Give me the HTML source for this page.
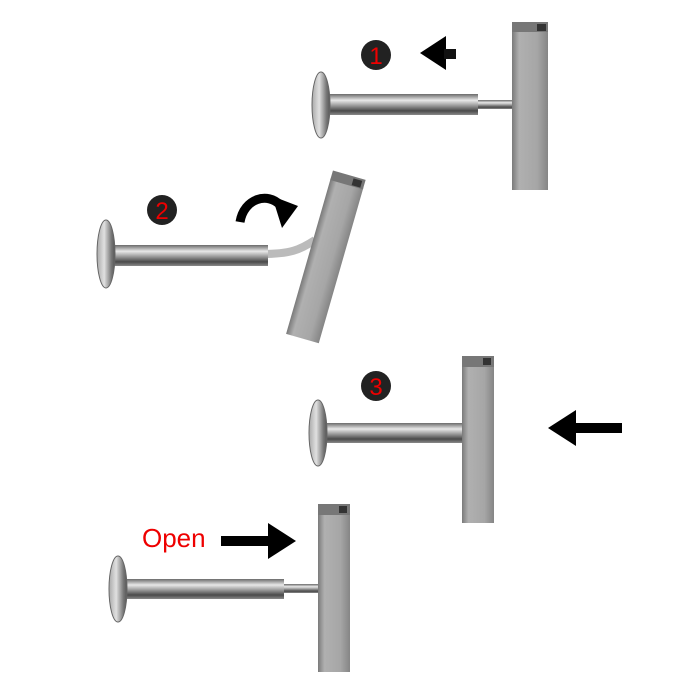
<!DOCTYPE html>
<html><head><style>body{margin:0;background:#fff}svg{display:block}</style></head><body>
<svg width="700" height="700" viewBox="0 0 700 700" xmlns="http://www.w3.org/2000/svg">
<defs>
<linearGradient id="rod" x1="0" y1="0" x2="0" y2="1">
<stop offset="0" stop-color="#6a6a6a"/><stop offset="0.3" stop-color="#e8e8e8"/><stop offset="0.55" stop-color="#9a9a9a"/><stop offset="0.8" stop-color="#4a4a4a"/><stop offset="1" stop-color="#8a8a8a"/></linearGradient>
<linearGradient id="disc" x1="0" y1="0" x2="1" y2="0">
<stop offset="0" stop-color="#aaa"/><stop offset="0.4" stop-color="#e0e0e0"/><stop offset="0.8" stop-color="#777"/><stop offset="1" stop-color="#555"/></linearGradient>
<linearGradient id="bar" x1="0" y1="0" x2="1" y2="0">
<stop offset="0" stop-color="#7a7a7a"/><stop offset="0.2" stop-color="#b0b0b0"/><stop offset="0.7" stop-color="#a6a6a6"/><stop offset="1" stop-color="#858585"/></linearGradient>
</defs>
<!-- 1 -->
<circle cx="376" cy="55" r="15" fill="#222"/>
<text x="376" y="64" font-family="Liberation Sans, sans-serif" font-size="24" fill="#e00" text-anchor="middle">1</text>
<polygon points="420,53 446,36 446,70" fill="#000"/><rect x="444" y="49" width="12" height="10" fill="#111"/>
<rect x="476" y="100" width="38" height="9" fill="url(#rod)"/>
<rect x="326" y="94" width="152" height="21" fill="url(#rod)"/>
<ellipse cx="321" cy="105" rx="9" ry="33" fill="url(#disc)" stroke="#666" stroke-width="1"/>
<rect x="512" y="30" width="36" height="160" fill="url(#bar)"/>
<polygon points="512,22 548,22 548,32 512,32" fill="#777"/><rect x="537" y="24" width="9" height="7" fill="#333"/>
<!-- 2 -->
<circle cx="162" cy="210" r="15" fill="#222"/>
<text x="162" y="219" font-family="Liberation Sans, sans-serif" font-size="24" fill="#e00" text-anchor="middle">2</text>
<path d="M240,222 C244,198 268,192 280,205" fill="none" stroke="#000" stroke-width="9"/>
<polygon points="272,196 298,206 282,228" fill="#000"/>
<path d="M262,254 C290,254 300,250 315,240" fill="none" stroke="#bbb" stroke-width="8"/>
<rect x="110" y="245" width="158" height="21" fill="url(#rod)"/>
<ellipse cx="106" cy="254" rx="9" ry="34" fill="url(#disc)" stroke="#666" stroke-width="1"/>
<g transform="rotate(16 326 260)">
<rect x="308" y="180" width="34" height="162" fill="url(#bar)"/>
<rect x="308" y="172" width="34" height="10" fill="#777"/><rect x="330" y="174" width="9" height="7" fill="#333"/>
</g>
<!-- 3 -->
<circle cx="376" cy="386" r="15" fill="#222"/>
<text x="376" y="395" font-family="Liberation Sans, sans-serif" font-size="24" fill="#e00" text-anchor="middle">3</text>
<polygon points="548,428 576,410 576,446" fill="#000"/><rect x="574" y="423" width="48" height="10" fill="#000"/>
<rect x="324" y="423" width="140" height="20" fill="url(#rod)"/>
<ellipse cx="318" cy="433" rx="9" ry="33" fill="url(#disc)" stroke="#666" stroke-width="1"/>
<rect x="462" y="366" width="32" height="157" fill="url(#bar)"/>
<rect x="462" y="356" width="32" height="11" fill="#777"/><rect x="483" y="358" width="8" height="7" fill="#333"/>
<!-- Open -->
<text x="142" y="547" font-family="Liberation Sans, sans-serif" font-size="26" fill="#e00">Open</text>
<rect x="221" y="536" width="50" height="10" fill="#000"/><polygon points="296,541 268,523 268,559" fill="#000"/>
<rect x="282" y="584" width="38" height="9" fill="url(#rod)"/>
<rect x="124" y="579" width="160" height="20" fill="url(#rod)"/>
<ellipse cx="118" cy="589" rx="9" ry="33" fill="url(#disc)" stroke="#666" stroke-width="1"/>
<rect x="318" y="514" width="32" height="158" fill="url(#bar)"/>
<rect x="318" y="504" width="32" height="11" fill="#777"/><rect x="339" y="506" width="8" height="7" fill="#333"/>
</svg>
</body></html>
